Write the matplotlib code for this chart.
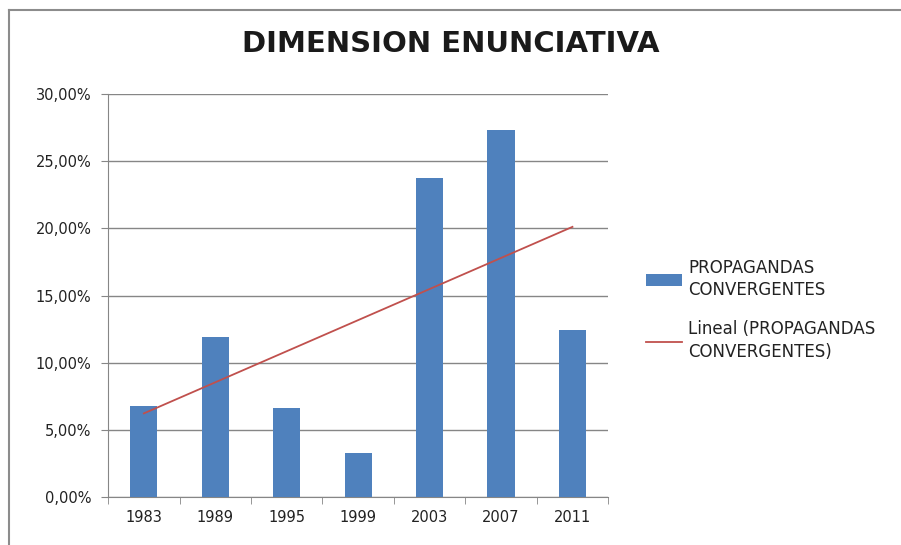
import numpy as np
import matplotlib.pyplot as plt
from matplotlib.lines import Line2D
from matplotlib.ticker import FuncFormatter

years = ['1983', '1989', '1995', '1999', '2003', '2007', '2011']
values = [6.80, 11.94, 6.65, 3.25, 23.78, 27.33, 12.43]

plt.rcParams['font.family'] = ['DejaVu Sans']

fig = plt.figure(figsize=(9.01, 5.45), dpi=100)
ax = fig.add_axes([0.12, 0.088, 0.555, 0.7395])

x = np.arange(1, len(years) + 1)
bars = ax.bar(x, values, width=0.38, color='#4F81BD', zorder=3,
              label='PROPAGANDAS\nCONVERGENTES')

# linear trend line (Excel "Lineal")
coef = np.polyfit(x, values, 1)
trend, = ax.plot(x, np.polyval(coef, x), color='#C0504D', lw=1.3, zorder=4,
                 label='Lineal (PROPAGANDAS\nCONVERGENTES)')

ax.set_xlim(0.5, len(years) + 0.5)
ax.set_ylim(0, 30)
ax.set_yticks(np.arange(0, 31, 5))
ax.yaxis.set_major_formatter(FuncFormatter(lambda v, p: ('%.2f%%' % v).replace('.', ',')))
ax.set_xticks(x)
ax.set_xticklabels(years)
ax.set_xticks(np.arange(0.5, len(years) + 1), minor=True)
ax.tick_params(axis='x', which='major', length=0, pad=9, labelsize=10.5, labelcolor='#222222')
ax.tick_params(axis='x', which='minor', length=5, color='#868686', direction='out')
ax.tick_params(axis='y', length=5, color='#868686', labelsize=10.5, pad=7, labelcolor='#222222')
ax.grid(axis='y', color='#868686', lw=1, zorder=0)
for s in ['top', 'right']:
    ax.spines[s].set_visible(False)
ax.spines['left'].set_color('#868686')
ax.spines['bottom'].set_color('#868686')

fig.text(0.5, 0.92, 'DIMENSION ENUNCIATIVA', ha='center', va='center',
         fontsize=21, fontweight='bold', color='#1a1a1a')

leg = fig.legend(handles=[bars, trend], loc='upper left', bbox_to_anchor=(0.70, 0.553),
                 frameon=False, fontsize=12, handlelength=2.2, handletextpad=0.35,
                 labelspacing=1.3, labelcolor='#222222')
for t in leg.get_texts():
    t.set_linespacing(1.3)

# chart frame (only top and left edges visible in the screenshot)
fig.add_artist(Line2D([9 / 901, 9 / 901], [0, 1 - 10 / 545], transform=fig.transFigure,
                      color='#8c8c8c', lw=1.5))
fig.add_artist(Line2D([9 / 901, 1], [1 - 10 / 545, 1 - 10 / 545], transform=fig.transFigure,
                      color='#8c8c8c', lw=1.5))

fig.savefig('out.png', dpi=100)
